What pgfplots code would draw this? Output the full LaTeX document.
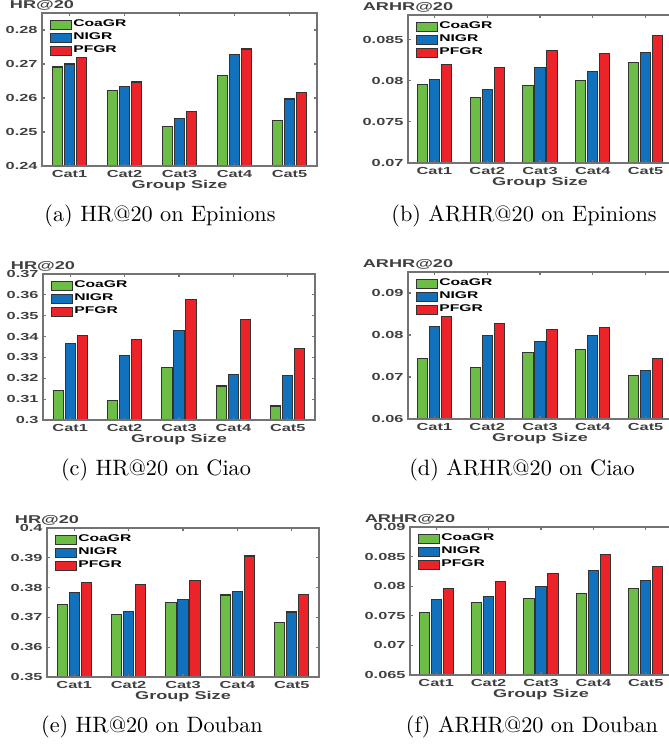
\documentclass[border=0pt]{standalone}
\usepackage{fontspec}
\usepackage{pgfplots}
\usepackage{pgfplotstable}
\pgfplotsset{compat=1.18}

% MATLAB-like wide bold sans for the plot text
\newfontfamily\hvw{Liberation Sans}[FakeStretch=1.6]
\newcommand\tickfont{\hvw\bfseries\fontsize{4.6}{5}\selectfont}
\newcommand\legfont{\hvw\bfseries\fontsize{4.4}{4.8}\selectfont}
\newcommand\labfont{\hvw\bfseries\fontsize{5.1}{5.6}\selectfont}
\newcommand\capfont{\fontsize{10}{12}\selectfont}

\definecolor{cgreen}{RGB}{108,189,69}
\definecolor{cblue}{RGB}{17,113,189}
\definecolor{cred}{RGB}{236,36,41}
\definecolor{axgray}{RGB}{115,115,115}
\definecolor{txtgray}{RGB}{64,64,64}

% HR@20 / ARHR@20 per group-size category
\pgfplotstableread{
cat coagr nigr pfgr
1 0.2691 0.2700 0.2720
2 0.2621 0.2634 0.2647
3 0.2517 0.2540 0.2561
4 0.2665 0.2729 0.2744
5 0.2535 0.2597 0.2615
}\hrEpinions
\pgfplotstableread{
cat coagr nigr pfgr
1 0.0795 0.0802 0.0820
2 0.0780 0.0789 0.0816
3 0.0794 0.0816 0.0837
4 0.0800 0.0811 0.0833
5 0.0822 0.0834 0.0855
}\arhrEpinions
\pgfplotstableread{
cat coagr nigr pfgr
1 0.3143 0.3365 0.3407
2 0.3095 0.3311 0.3384
3 0.3250 0.3429 0.3579
4 0.3163 0.3218 0.3480
5 0.3067 0.3215 0.3343
}\hrCiao
\pgfplotstableread{
cat coagr nigr pfgr
1 0.0745 0.0820 0.0844
2 0.0722 0.0799 0.0828
3 0.0758 0.0784 0.0813
4 0.0765 0.0799 0.0818
5 0.0704 0.0716 0.0743
}\arhrCiao
\pgfplotstableread{
cat coagr nigr pfgr
1 0.3744 0.3784 0.3818
2 0.3709 0.3721 0.3809
3 0.3751 0.3759 0.3824
4 0.3775 0.3788 0.3906
5 0.3684 0.3718 0.3778
}\hrDouban
\pgfplotstableread{
cat coagr nigr pfgr
1 0.0755 0.0777 0.0796
2 0.0772 0.0782 0.0808
3 0.0779 0.0800 0.0822
4 0.0788 0.0826 0.0853
5 0.0796 0.0810 0.0833
}\arhrDouban

\pgfplotsset{
  grp/.style={
    scale only axis, anchor=south west,
    axis on top,
    ybar=0.8pt, bar width=4.6pt,
    xmin=0.5, xmax=5.5, xtick={1,2,3,4,5},
    xticklabels={Cat1,Cat2,Cat3,Cat4,Cat5},
    tick align=inside, major tick length=1.3pt,
    axis line style={axgray, line width=0.6pt},
    tick style={axgray, line width=0.5pt},
    ticklabel style={font=\tickfont, text=txtgray},
    /pgf/number format/assume math mode=true,
    yticklabel style={/pgf/number format/fixed, /pgf/number format/precision=3, inner sep=1.8pt},
    xticklabel style={inner sep=1.8pt},
    scaled y ticks=false,
    xlabel={Group Size},
    every axis x label/.style={at={(axis description cs:0.5,0)}, anchor=center,
      yshift=-8.7pt, font=\labfont, text=txtgray, inner sep=0pt},
    legend style={at={(axis description cs:0,1)}, anchor=north west,
      xshift=3.4pt, yshift=-2.4pt, draw=none, fill=none, font=\legfont,
      inner sep=0pt, row sep=0pt, nodes={inner sep=0.6pt}},
    legend cell align=left,
    legend image code/.code={\draw[#1] (0pt,-2.0pt) rectangle (9.4pt,2.0pt);},
    every axis plot/.append style={draw=black!80, line width=0.5pt},
  },
}

% one bar panel: x, y, width, height, ymin, ymax, yticks, metric label, table
\newcommand\panel[9]{%
  \begin{axis}[grp, at={(#1,#2)}, width=#3, height=#4,
      ymin=#5, ymax=#6, ytick={#7},
      extra description/.code={%
        \node[font=\labfont, text=txtgray, inner sep=0pt, anchor=base,
              yshift=1.9pt] at (0,1) {#8};}]
    \addplot[fill=cgreen] table[x=cat, y=coagr] {#9};
    \addplot[fill=cblue]  table[x=cat, y=nigr]  {#9};
    \addplot[fill=cred]   table[x=cat, y=pfgr]  {#9};
    \legend{CoaGR,NIGR,PFGR}
  \end{axis}}

\begin{document}
\begin{tikzpicture}
\panel{18.9pt}{260.1pt}{123.75pt}{68.85pt}{0.24}{0.285}{0.24,0.25,0.26,0.27,0.28}{HR@20}{\hrEpinions}
\panel{183.6pt}{261.45pt}{118.8pt}{66.6pt}{0.07}{0.088}{0.07,0.075,0.08,0.085}{ARHR@20}{\arhrEpinions}
\panel{19.35pt}{145.8pt}{122.4pt}{65.7pt}{0.3}{0.37}{0.3,0.31,0.32,0.33,0.34,0.35,0.36,0.37}{HR@20}{\hrCiao}
\panel{183.6pt}{146.25pt}{118.8pt}{66.15pt}{0.06}{0.095}{0.06,0.07,0.08,0.09}{ARHR@20}{\arhrCiao}
\panel{21.15pt}{30.15pt}{122.4pt}{67.05pt}{0.35}{0.4}{0.35,0.36,0.37,0.38,0.39,0.4}{HR@20}{\hrDouban}
\panel{184.5pt}{31.05pt}{117.9pt}{66.6pt}{0.065}{0.09}{0.065,0.07,0.075,0.08,0.085,0.09}{ARHR@20}{\arhrDouban}

\node[font=\capfont] at (72pt,237.6pt) {(a) HR@20 on Epinions};
\node[font=\capfont] at (235.8pt,237.6pt) {(b) ARHR@20 on Epinions};
\node[font=\capfont] at (70.2pt,123.3pt) {(c) HR@20 on Ciao};
\node[font=\capfont] at (234.9pt,123.3pt) {(d) ARHR@20 on Ciao};
\node[font=\capfont] at (68.4pt,7.65pt) {(e) HR@20 on Douban};
\node[font=\capfont] at (239.4pt,7.65pt) {(f) ARHR@20 on Douban};

% page = the figure area; the right-hand axes run slightly past its edge
\pgfresetboundingbox
\useasboundingbox (0pt,0pt) rectangle (300.6pt,334.8pt);
\end{tikzpicture}
\end{document}
